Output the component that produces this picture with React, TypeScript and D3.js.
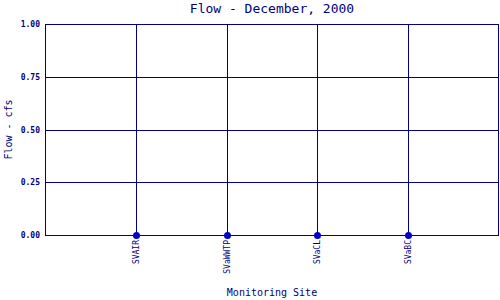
import React from "react";
import * as d3 from "d3";

const sites = ["SVAIR", "SVaWWTP", "SVaCL", "SVaBC"];
const flows = [0, 0, 0, 0];
const yTicks = [0, 0.25, 0.5, 0.75, 1.0];
const title = "Flow - December, 2000";
const xLabel = "Monitoring Site";
const yLabel = "Flow - cfs";

const W = 500, H = 300;
const L = 45, R = 499, T = 24, B = 235;
const NAVY = "#000080";
const DOT = "#0000cc";
const FONT = "'DejaVu Sans Mono', monospace";

export default function App() {
  const x = d3.scalePoint<string>().domain(sites).range([L, R]).padding(1);
  const y = d3.scaleLinear().domain([0, 1]).range([B, T]);
  const fmt = d3.format(".2f");
  const cx = (L + R) / 2;
  return (
    <svg width={W} height={H} style={{ position: "absolute", left: 0, top: 0, background: "#fff" }}>
      <rect x={0} y={0} width={W} height={H} fill="#fff" />
      <text x={cx} y={13} fill={NAVY} fontFamily={FONT} fontSize={13} textAnchor="middle">{title}</text>
      {yTicks.map((t) => (
        <g key={t}>
          <line x1={L} x2={R} y1={Math.round(y(t)) + 0.5} y2={Math.round(y(t)) + 0.5} stroke={NAVY} strokeWidth={1} />
          <text x={40} y={Math.round(y(t)) + 3} fill={NAVY} fontFamily={FONT} fontSize={8} fontWeight="bold" textAnchor="end">{fmt(t)}</text>
        </g>
      ))}
      {sites.map((s) => (
        <line key={s} x1={Math.round(x(s)!) + 0.5} x2={Math.round(x(s)!) + 0.5} y1={T} y2={B + 1} stroke={NAVY} strokeWidth={1} />
      ))}
      <rect x={L + 0.5} y={T + 0.5} width={R - L - 1} height={B - T} fill="none" stroke={NAVY} strokeWidth={1} />
      {sites.map((s, i) => (
        <circle key={s} cx={Math.round(x(s)!) + 0.5} cy={Math.round(y(flows[i])) + 0.5} r={3.5} fill={DOT} />
      ))}
      {sites.map((s) => (
        <text key={s} transform={`translate(${Math.round(x(s)!) + 3},${B + 5}) rotate(-90)`} fill={NAVY} fontFamily={FONT} fontSize={8} textAnchor="end">{s}</text>
      ))}
      <text x={cx} y={296} fill={NAVY} fontFamily={FONT} fontSize={10} textAnchor="middle">{xLabel}</text>
      <text transform={`translate(12,${(T + B) / 2}) rotate(-90)`} fill={NAVY} fontFamily={FONT} fontSize={10} textAnchor="middle">{yLabel}</text>
    </svg>
  );
}
